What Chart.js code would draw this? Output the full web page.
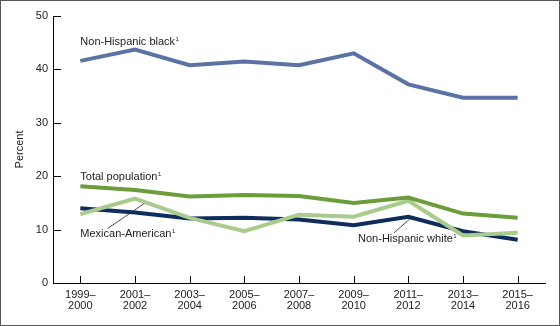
<!DOCTYPE html>
<html>
<head>
<meta charset="utf-8">
<script src="https://cdn.jsdelivr.net/npm/chart.js@4.4.0/dist/chart.umd.min.js"></script>
<style>
  body { margin: 0; background: #fff; }
</style>
</head>
<body>
<canvas id="myChart" width="560" height="326"></canvas>
<script>
// survey periods, two-line labels
var periods = [
  ['1999–', '2000'], ['2001–', '2002'], ['2003–', '2004'],
  ['2005–', '2006'], ['2007–', '2008'], ['2009–', '2010'],
  ['2011–', '2012'], ['2013–', '2014'], ['2015–', '2016']
];
var nhBlack     = [41.6, 43.7, 40.8, 41.5, 40.8, 43.0, 37.2, 34.7, 34.7];
var totalPop    = [18.1, 17.4, 16.2, 16.5, 16.3, 15.0, 16.0, 13.0, 12.2];
var mexAmerican = [12.9, 15.8, 12.2, 9.7, 12.8, 12.4, 15.4, 8.9, 9.4];
var nhWhite     = [14.0, 13.2, 12.1, 12.2, 11.9, 10.8, 12.4, 9.7, 8.1];
var yTicks = [0, 10, 20, 30, 40, 50];

var FONT = '"Liberation Sans", Arial, sans-serif';

// in-plot series names (x = category index, y = percent at text baseline)
var seriesNames = [
  { text: 'Non-Hispanic black', x: 0, y: 44.6 },
  { text: 'Total population', x: 0, y: 19.3 },
  { text: 'Mexican-American', x: 0, y: 8.65, leader: [0.5, 10.2, 1.17, 14.9] },
  { text: 'Non-Hispanic white', x: 5.08, y: 7.6, leader: [5.74, 9.4, 6.06, 12.3] }
];

var decorations = {
  id: 'decorations',
  beforeDraw: function (chart) {
    var c = chart.ctx;
    c.save();
    c.fillStyle = '#fff';
    c.fillRect(0, 0, chart.width, chart.height);
    c.restore();
  },
  afterDraw: function (chart) {
    var c = chart.ctx, xs = chart.scales.x, ys = chart.scales.y;
    var area = chart.chartArea;
    c.save();
    // inward tick marks
    c.strokeStyle = '#000';
    c.lineWidth = 1;
    c.beginPath();
    yTicks.forEach(function (v) {
      var py = Math.round(ys.getPixelForValue(v)) + 0.5;
      c.moveTo(area.left, py);
      c.lineTo(area.left + 8, py);
    });
    periods.forEach(function (p, i) {
      var px = Math.round(xs.getPixelForValue(i)) + 0.5;
      c.moveTo(px, area.bottom);
      c.lineTo(px, area.bottom - 7);
    });
    c.stroke();

    // series names with superscript note marker
    c.fillStyle = '#222';
    c.textBaseline = 'alphabetic';
    c.textAlign = 'left';
    seriesNames.forEach(function (s) {
      var px = xs.getPixelForValue(s.x), py = ys.getPixelForValue(s.y);
      c.font = '11px ' + FONT;
      c.fillText(s.text, px, py);
      var w = c.measureText(s.text).width;
      c.font = '6px ' + FONT;
      c.fillText('1', px + w + 0.5, py - 4);
      if (s.leader) {
        c.beginPath();
        c.moveTo(xs.getPixelForValue(s.leader[0]), ys.getPixelForValue(s.leader[1]));
        c.lineTo(xs.getPixelForValue(s.leader[2]), ys.getPixelForValue(s.leader[3]));
        c.strokeStyle = '#222';
        c.lineWidth = 0.8;
        c.stroke();
      }
    });

    // frame around the figure
    c.strokeStyle = '#555';
    c.lineWidth = 1;
    c.strokeRect(0.5, 0.5, chart.width - 1, chart.height - 1);
    c.restore();
  }
};

function line(label, data, color) {
  return {
    label: label,
    data: data,
    borderColor: color,
    backgroundColor: color,
    borderWidth: 4,
    pointRadius: 0,
    fill: false,
    tension: 0,
    borderJoinStyle: 'miter'
  };
}

var ctx = document.getElementById('myChart').getContext('2d');
var myChart = new Chart(ctx, {
  type: 'line',
  data: {
    labels: periods,
    datasets: [
      line('Non-Hispanic black', nhBlack, '#5b72a4'),
      line('Total population', totalPop, '#6b9d3b'),
      line('Mexican-American', mexAmerican, '#a9cb8c'),
      line('Non-Hispanic white', nhWhite, '#0e2d5c')
    ]
  },
  options: {
    responsive: false,
    animation: false,
    layout: { padding: { top: 16, right: 15, left: 0, bottom: 0 } },
    plugins: {
      legend: { display: false },
      tooltip: { enabled: false }
    },
    scales: {
      x: {
        offset: true,
        grid: { display: false, drawTicks: false },
        border: { display: true, color: '#000', width: 1 },
        ticks: {
          color: '#222',
          padding: 6,
          maxRotation: 0,
          autoSkip: false,
          font: { family: FONT, size: 11, lineHeight: 1.05 }
        },
        afterFit: function (s) { s.height = 43; }
      },
      y: {
        min: 0,
        max: 50,
        grid: { display: false, drawTicks: false },
        border: { display: true, color: '#000', width: 1 },
        ticks: {
          stepSize: 10,
          color: '#222',
          padding: 5,
          font: { family: FONT, size: 11 }
        },
        title: {
          display: true,
          text: 'Percent',
          color: '#222',
          padding: { top: 13, bottom: 0 },
          font: { family: FONT, size: 11 }
        },
        afterFit: function (s) { s.width = 53; }
      }
    }
  },
  plugins: [decorations]
});
</script>
</body>
</html>
